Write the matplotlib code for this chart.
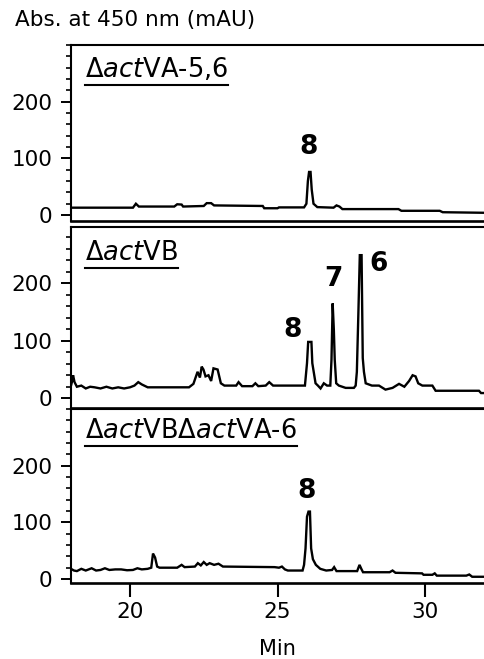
import matplotlib
matplotlib.use("Agg")
import matplotlib.pyplot as plt
from matplotlib.lines import Line2D
from matplotlib.transforms import IdentityTransform
from matplotlib.ticker import MultipleLocator

plt.rcParams['font.family'] = ['DejaVu Sans']
plt.rcParams['mathtext.fontset'] = 'dejavusans'

# ---------------- data (retention time in min, absorbance in mAU) ----------------
panel_labels = [r"Δ$\mathit{act}$VA-5,6", r"Δ$\mathit{act}$VB", r"Δ$\mathit{act}$VBΔ$\mathit{act}$VA-6"]

t_va56 = [18.0, 20.1, 20.2, 20.3, 21.5, 21.6, 21.75, 21.8, 22.5, 22.6, 22.75, 22.85,
          24.5, 24.55, 25.0, 25.05, 25.9, 25.98, 26.03, 26.07, 26.12, 26.16, 26.22, 26.35,
          26.9, 27.0, 27.1, 27.2, 29.1, 29.2, 30.5, 30.6, 32.0]
y_va56 = [13, 13, 20, 15, 15, 19, 18.5, 15, 16, 21, 21, 17,
          16, 12, 12, 13.5, 13.5, 20, 60, 76, 76, 45, 20, 14,
          13, 17, 15, 10.5, 10.5, 7.5, 7.5, 5, 4]

t_vb = [18.0, 18.04, 18.07, 18.12, 18.2, 18.35, 18.5, 18.65, 18.8, 19.0, 19.2, 19.4, 19.6,
        19.8, 20.0, 20.15, 20.28, 20.4, 20.6, 21.5, 22.0, 22.15, 22.29, 22.37, 22.43, 22.49,
        22.56, 22.66, 22.75, 22.83, 22.97, 23.08, 23.2, 23.6, 23.68, 23.8, 24.15, 24.25, 24.35,
        24.6, 24.72, 24.85, 25.93, 26.0, 26.04, 26.15, 26.18, 26.29, 26.37, 26.46, 26.57,
        26.68, 26.79, 26.83, 26.87, 26.91, 26.94, 26.99, 27.08, 27.31, 27.59, 27.65, 27.69,
        27.74, 27.79, 27.85, 27.89, 27.93, 27.99, 28.2, 28.44, 28.66, 28.9, 29.12, 29.3,
        29.46, 29.58, 29.68, 29.77, 29.91, 30.1, 30.25, 30.36, 31.83, 31.9, 32.0]
y_vb = [22, 30, 40, 28, 20, 22, 17, 20, 19, 17, 20, 17, 19,
        17, 19, 22, 28, 24, 19, 19, 19, 25, 46, 36, 55, 50,
        38, 40, 30, 52, 50, 26, 22, 22, 28, 21, 21, 26, 21,
        22, 28, 22, 22, 61, 98, 98, 61, 26, 22, 17, 26,
        22, 22, 67, 165, 119, 67, 26, 22, 18, 18, 22, 46,
        145, 249, 249, 70, 46, 26, 22, 22, 15, 18, 25, 20,
        30, 40, 38, 26, 22, 22, 22, 13, 13, 9, 9]

t_vbva6 = [18.0, 18.1, 18.2, 18.35, 18.5, 18.7, 18.85, 19.0, 19.15, 19.3, 19.5, 19.7, 19.9,
           20.1, 20.25, 20.4, 20.6, 20.72, 20.78, 20.85, 20.92, 21.0, 21.6, 21.75, 21.85,
           22.2, 22.3, 22.4, 22.5, 22.6, 22.7, 22.85, 23.0, 23.15, 24.9, 25.05, 25.15, 25.25,
           25.35, 25.85, 25.9, 25.95, 26.0, 26.05, 26.1, 26.14, 26.2, 26.3, 26.45, 26.65,
           26.85, 26.92, 27.0, 27.7, 27.78, 27.85, 27.9, 28.8, 28.9, 29.0, 29.9, 29.95,
           30.25, 30.33, 30.4, 31.4, 31.5, 31.6, 32.0]
y_vbva6 = [18, 15, 14, 18, 15, 19, 15, 16, 19, 16, 17, 17, 15.5,
           16, 19, 17, 18, 20, 45, 38, 22, 20, 20, 25, 21,
           22, 28, 24, 30, 25, 28, 25, 27, 22, 21, 20, 22, 17,
           15, 15, 25, 54, 110, 119, 119, 54, 35, 25, 18, 15,
           16, 21, 14, 14, 25, 17, 12, 12, 15, 11, 10, 7.5,
           7.5, 10, 6, 6, 8, 4, 4]

peak_names = [["8"], ["8", "7", "6"], ["8"]]
peak_t = [[26.06], [25.52, 26.88, 28.41], [25.97]]
peak_y = [[120], [119, 207, 233], [156]]

yticks = [0, 100, 200]
xticks = [20, 25, 30]

# ---------------- figure ----------------
W, H = 484, 659
fig = plt.figure(figsize=(W / 100, H / 100), dpi=100)

def box(top, bottom, left=71, right=484):
    return [left / W, 1 - bottom / H, (right - left) / W, (bottom - top) / H]

positions = [box(45, 221), box(227, 408), box(409, 583)]
ylims = [(-10.5, 300), (-17, 298), (-7, 300)]
series = [(t_va56, y_va56), (t_vb, y_vb), (t_vbva6, y_vbva6)]
label_y = [0.818, 0.818, 0.833]

axes = []
texts = []
for i in range(3):
    ax = fig.add_axes(positions[i])
    t, y = series[i]
    ax.plot(t, y, color='black', lw=1.7, solid_joinstyle='miter')
    ax.set_xlim(18, 32)
    ax.set_ylim(*ylims[i])
    ax.set_yticks(yticks)
    ax.yaxis.set_minor_locator(MultipleLocator(20))
    ax.tick_params(axis='y', which='major', direction='out', length=7.5, width=1.4,
                   labelsize=15.5, pad=6)
    ax.tick_params(axis='y', which='minor', direction='out', length=3.5, width=1.2)
    ax.spines['right'].set_visible(False)
    for s in ['left', 'top']:
        ax.spines[s].set_linewidth(1.5)
    ax.spines['bottom'].set_linewidth(1.9)
    if i < 2:
        ax.set_xticks([])
    else:
        ax.set_xticks(xticks)
        ax.tick_params(axis='x', direction='out', length=10, width=1.5,
                       labelsize=15.5, pad=4)
        ax.set_xlabel("Min", fontsize=15)
        ax.xaxis.set_label_coords(0.5, -0.32)
    for name, pt, py in zip(peak_names[i], peak_t[i], peak_y[i]):
        ax.text(pt, py, name, ha='center', va='center', fontsize=19, fontweight='bold')
    tx = ax.text(0.034, label_y[i], panel_labels[i], transform=ax.transAxes,
                 ha='left', va='baseline', fontsize=18.5)
    texts.append(tx)
    axes.append(ax)

fig.text(15 / W, 1 - 20 / H, "Abs. at 450 nm (mAU)", ha='left', va='center', fontsize=15.5)

# underline the strain labels
fig.canvas.draw()
renderer = fig.canvas.get_renderer()
for tx in texts:
    bb = tx.get_window_extent(renderer)
    bx, by = tx.get_transform().transform(tx.get_position())
    yy = by - 8
    fig.lines.append(Line2D([bb.x0, bb.x1], [yy, yy], transform=IdentityTransform(),
                            color='black', lw=1.5))

fig.savefig("out.png", dpi=100)
